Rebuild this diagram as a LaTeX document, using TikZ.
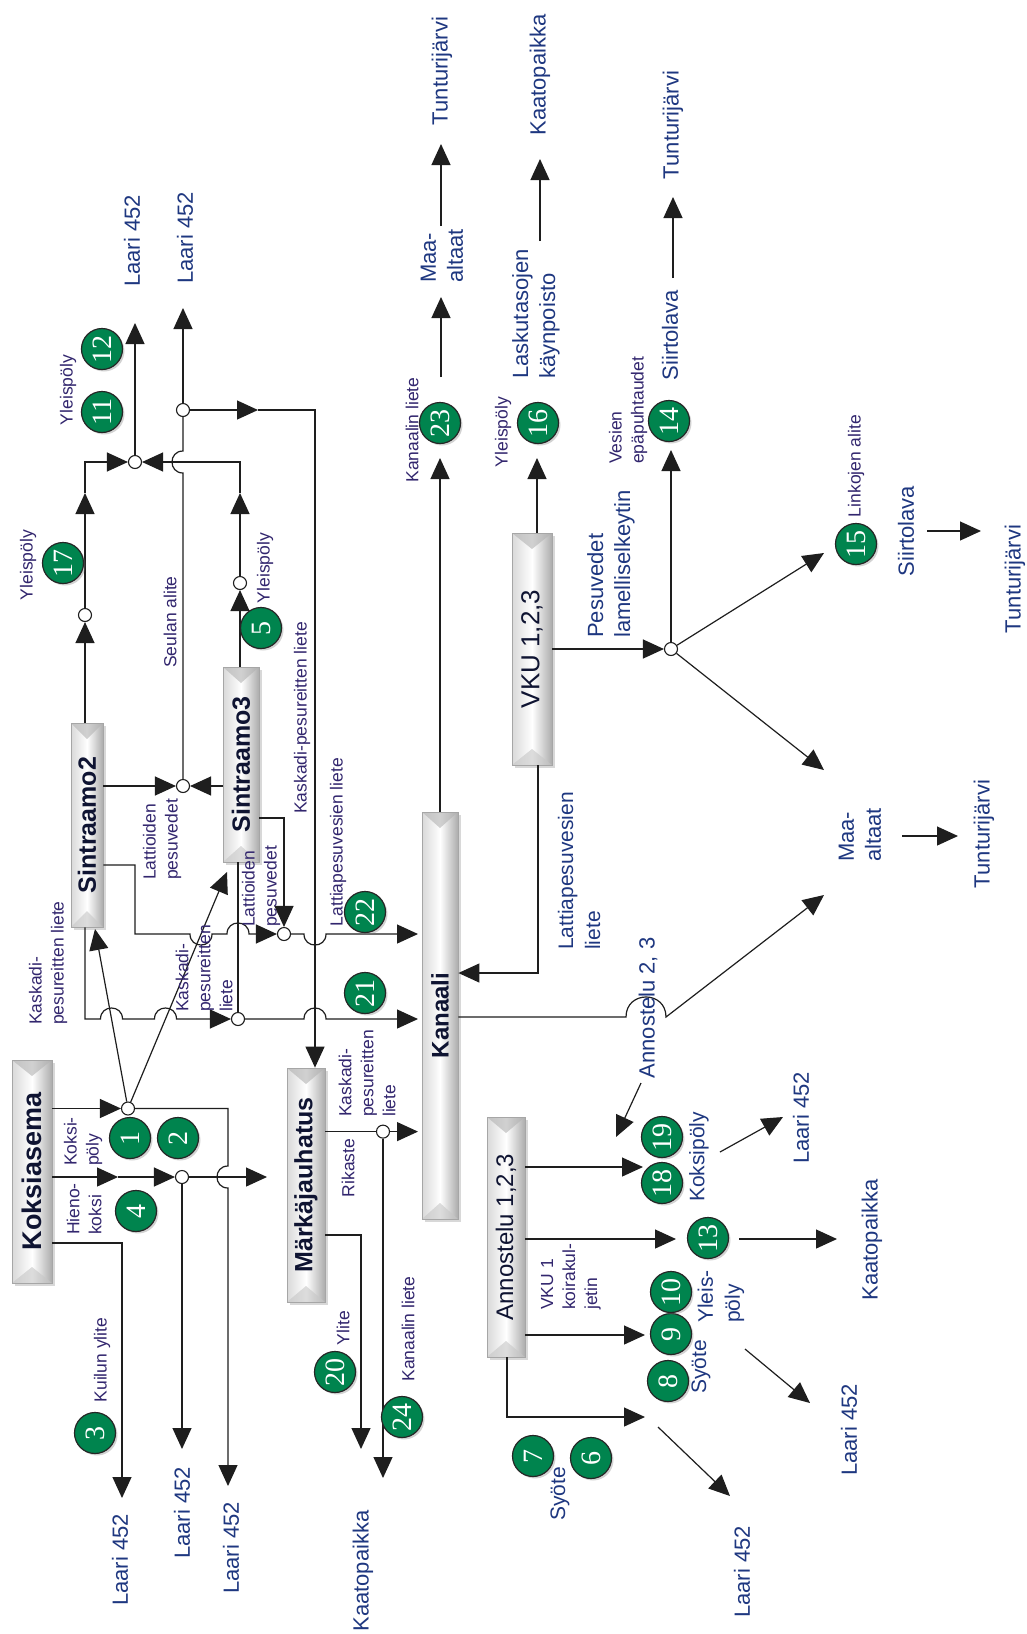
\documentclass[tikz,border=0pt]{standalone}
\usepackage{fontspec}
\usepackage{graphicx}
\setmainfont{Liberation Sans}
\newfontfamily\numfont{Liberation Serif}
\usetikzlibrary{arrows.meta,shadows}
\definecolor{badgegreen}{RGB}{0,132,78}
\definecolor{lblue}{RGB}{30,55,128}
\definecolor{lpurple}{RGB}{50,38,110}
\definecolor{linec}{RGB}{30,30,30}
\definecolor{boxtxt}{RGB}{15,20,50}
\tikzset{
 flow/.style={draw=linec, line width=1.2pt},
 arr/.style={flow, -{Triangle[length=21pt,width=19pt]}},
 jn/.style={circle, draw=linec, fill=white, line width=1.1pt, minimum size=13pt, inner sep=0pt},
 badge/.style={circle, draw=black!85, fill=badgegreen, line width=1.2pt, minimum size=41pt, inner sep=0pt, text=white, font=\numfont\fontsize{28}{28}\selectfont, drop shadow={shadow xshift=2pt, shadow yshift=-2pt, opacity=0.35}},
 unit/.style={rectangle, draw=gray!70, line width=0.8pt, left color=gray!30, right color=gray!65, middle color=white, inner sep=0pt, text=boxtxt,
   drop shadow={shadow xshift=3pt, shadow yshift=-3pt, opacity=0.3},
   path picture={
     \fill[gray!60, opacity=0.6] (path picture bounding box.north west) -- (path picture bounding box.north east) -- ([yshift=-16pt]path picture bounding box.north) -- cycle;
     \fill[gray!45, opacity=0.6] (path picture bounding box.south west) -- (path picture bounding box.south east) -- ([yshift=16pt]path picture bounding box.south) -- cycle;
   }},
 dlbl/.style={text=lblue, font=\fontsize{22}{27}\selectfont, rotate=90, inner sep=0pt, align=left},
 mlbl/.style={text=lblue, font=\fontsize{21}{27}\selectfont, rotate=90, inner sep=0pt, align=left},
 slbl/.style={text=lpurple, font=\fontsize{17.5}{22}\selectfont, rotate=90, inner sep=0pt, align=left},
}
\begin{document}
\begin{tikzpicture}[x=1pt,y=-1pt]
\fill[white] (0,0) rectangle (1027,1634);
\useasboundingbox (0,0) rectangle (1027,1634);

% ---------- process units ----------
\node[unit, minimum width=40pt, minimum height=223pt] (kok) at (32,1171.5) {\rotatebox{90}{\fontsize{27}{27}\selectfont\bfseries Koksiasema}};
\node[unit, minimum width=32pt, minimum height=204pt] (sin2) at (87,825) {\rotatebox{90}{\fontsize{25}{25}\selectfont\bfseries Sintraamo2}};
\node[unit, minimum width=36pt, minimum height=195pt] (sin3) at (241,764.5) {\rotatebox{90}{\fontsize{25}{25}\selectfont\bfseries Sintraamo3}};
\node[unit, minimum width=38pt, minimum height=234pt] (mark) at (306,1185) {\rotatebox{90}{\fontsize{25}{25}\selectfont\bfseries Märkäjauhatus}};
\node[unit, minimum width=36pt, minimum height=407pt] (kan) at (440,1015.5) {\rotatebox{90}{\fontsize{24}{24}\selectfont\bfseries Kanaali}};
\node[unit, minimum width=40pt, minimum height=232pt] (vku) at (532,649) {\rotatebox{90}{\fontsize{26}{26}\selectfont VKU 1,2,3}};
\node[unit, minimum width=38pt, minimum height=240pt] (ann) at (506,1237) {\rotatebox{90}{\fontsize{24}{24}\selectfont Annostelu 1,2,3}};

% ---------- junctions ----------
\node[jn] (j1) at (128,1108.5) {};
\node[jn] (j2) at (182,1177) {};
\node[jn] (j3) at (383,1131.6) {};
\node[jn] (j4) at (183,786) {};
\node[jn] (j5) at (284,934) {};
\node[jn] (j6) at (238,1019) {};
\node[jn] (j7) at (135,462) {};
\node[jn] (j8) at (183,410) {};
\node[jn] (j9) at (85,615) {};
\node[jn] (j10) at (240,583) {};
\node[jn] (j11) at (671,649) {};

% ---------- free ends ----------
\coordinate (k2a) at (118,1177);
\coordinate (k3c) at (122,1243); \coordinate (k3e) at (122,1498);
\coordinate (j1c) at (228,1108.5); \coordinate (j1e) at (228,1486);
\coordinate (j2e) at (182,1449); \coordinate (j2r) at (267,1177);
\coordinate (j3r) at (418,1131.6); \coordinate (j3e) at (383,1478);
\coordinate (m2) at (361,1235); \coordinate (m2e) at (361,1449);
\coordinate (j9a) at (85,493); \coordinate (j9b) at (85,462);
\coordinate (j10a) at (240,493); \coordinate (j10b) at (240,462);
\coordinate (j7e) at (135,323); \coordinate (j8e) at (183,308);
\coordinate (j8a) at (258,410); \coordinate (j8b) at (315,410);
\coordinate (s2b) at (135,865); \coordinate (s3b) at (284,818);
\coordinate (s2c) at (85,1019);
\coordinate (j5e) at (418,934); \coordinate (j6e) at (418,1019);
\coordinate (d1e) at (95,929); \coordinate (d2e) at (227,872);
\coordinate (k23e) at (440,458);
\coordinate (m23s) at (441,377); \coordinate (m23e) at (441,297);
\coordinate (t1s) at (441,226); \coordinate (t1e) at (441,144);
\coordinate (k2) at (626,1017); \coordinate (k2e) at (824,895);
\coordinate (v16) at (537,458); \coordinate (v1) at (538,973);
\coordinate (j11u) at (671,450); \coordinate (j11a) at (824,553); \coordinate (j11b) at (824,770);
\coordinate (lk1) at (540,241); \coordinate (lk2) at (540,159);
\coordinate (s14a) at (673,278); \coordinate (s14b) at (673,197);
\coordinate (s15a) at (927,531); \coordinate (s15b) at (981,531);
\coordinate (ma1) at (902,836); \coordinate (ma2) at (958,836);
\coordinate (a1) at (643,1167); \coordinate (a2) at (676,1239); \coordinate (a3) at (645,1335);
\coordinate (a4c) at (507,1417); \coordinate (a4) at (645,1417);
\coordinate (an23s) at (641,1083); \coordinate (an23e) at (616,1137);
\coordinate (kp1) at (720,1152); \coordinate (kp2) at (783,1117);
\coordinate (c13s) at (739,1239); \coordinate (c13e) at (837,1239);
\coordinate (yp1) at (745,1349); \coordinate (yp2) at (810,1403);
\coordinate (sy1) at (658,1427); \coordinate (sy2) at (730,1496);

% ---------- Koksiasema ----------
\draw[arr] (kok.east |- j1) -- (j1);
\draw[arr] (kok.east |- k2a) -- (k2a);
\draw[arr] (k2a) -- (j2);
\draw[arr] (kok.east |- k3c) -- (k3c) -- (k3e);
\draw[arr] (j1) -- (j1c) -- (228,1166) .. controls (213.3,1166) and (213.3,1188) .. (228,1188) -- (j1e);
\draw[arr] (j2) -- (j2e);
\draw[arr] (j2) -- (j2r);
\draw[arr] (j1) -- (d1e);
\draw[arr] (j1) -- (d2e);

% ---------- Märkäjauhatus ----------
\draw[flow] (mark.east |- j3) -- (j3);
\draw[arr] (j3) -- (j3r);
\draw[arr] (j3) -- (j3e);
\draw[arr] (mark.east |- m2) -- (m2) -- (m2e);

% ---------- Sintraamot ----------
\draw[arr] (sin2.north -| j9) -- (j9);
\draw[arr] (j9) -- (j9a);
\draw[arr] (j9a) -- (j9b) -- (j7);
\draw[arr] (sin3.north -| j10) -- (j10);
\draw[arr] (j10) -- (j10a);
\draw[arr] (j10a) -- (j10b) -- (j7);
\draw[arr] (j7) -- (j7e);
\draw[arr] (j8) -- (j8e);
\draw[arr] (j8) -- (j8a);
\draw[arr] (j8a) -- (j8b) -- (j8b |- mark.north);
\draw[flow] (j8) -- (183,451) .. controls (168.3,451) and (168.3,473) .. (183,473) -- (j4);
\draw[arr] (sin2.east |- j4) -- (j4);
\draw[arr] (sin3.west |- j4) -- (j4);
\draw[arr] (sin2.east |- s2b) -- (s2b) -- (135,934) -- (190,934) .. controls (190,948.7) and (212,948.7) .. (212,934)
   -- (227,934) .. controls (227,919.3) and (249,919.3) .. (249,934) -- (j5);
\draw[arr] (sin3.east |- s3b) -- (s3b) -- (j5);
\draw[arr] (j5) -- (304,934) .. controls (304,948.7) and (326,948.7) .. (326,934) -- (j5e);
\draw[arr] (sin2.south -| s2c) -- (s2c) -- (100.5,1019) .. controls (100.5,1004.3) and (122.5,1004.3) .. (122.5,1019)
   -- (154.5,1019) .. controls (154.5,1004.3) and (176.5,1004.3) .. (176.5,1019) -- (j6);
\draw[flow] (sin3.south -| j6) -- (j6);
\draw[arr] (j6) -- (304,1019) .. controls (304,1004.3) and (326,1004.3) .. (326,1019) -- (j6e);

% ---------- Kanaali ----------
\draw[arr] (kan.north) -- (k23e);
\draw[arr] (m23s) -- (m23e);
\draw[arr] (t1s) -- (t1e);
\draw[arr] (kan.east |- k2) -- (k2) .. controls (626,990.3) and (666,990.3) .. (666,1017) -- (k2e);

% ---------- VKU ----------
\draw[arr] (vku.north -| v16) -- (v16);
\draw[arr] (vku.south -| v1) -- (v1) -- (kan.east |- v1);
\draw[arr] (vku.east |- j11) -- (j11);
\draw[arr] (j11) -- (j11u);
\draw[arr] (j11) -- (j11a);
\draw[arr] (j11) -- (j11b);
\draw[arr] (lk1) -- (lk2);
\draw[arr] (s14a) -- (s14b);
\draw[arr] (s15a) -- (s15b);
\draw[arr] (ma1) -- (ma2);

% ---------- Annostelu ----------
\draw[arr] (ann.east |- a1) -- (a1);
\draw[arr] (ann.east |- a2) -- (a2);
\draw[arr] (ann.east |- a3) -- (a3);
\draw[arr] (ann.south -| a4c) -- (a4c) -- (a4);
\draw[arr] (an23s) -- (an23e);
\draw[arr] (kp1) -- (kp2);
\draw[arr] (c13s) -- (c13e);
\draw[arr] (yp1) -- (yp2);
\draw[arr] (sy1) -- (sy2);

% ---------- badges ----------
\node[badge] (b1) at (130,1138) {\rotatebox{90}{1}};
\node[badge] (b2) at (178,1138) {\rotatebox{90}{2}};
\node[badge] (b3) at (95,1433) {\rotatebox{90}{3}};
\node[badge] (b4) at (136,1211) {\rotatebox{90}{4}};
\node[badge] (b5) at (261,628) {\rotatebox{90}{5}};
\node[badge] (b6) at (591,1458) {\rotatebox{90}{6}};
\node[badge] (b7) at (533,1456) {\rotatebox{90}{7}};
\node[badge] (b8) at (668,1381) {\rotatebox{90}{8}};
\node[badge] (b9) at (671,1334) {\rotatebox{90}{9}};
\node[badge] (b10) at (671,1292) {\rotatebox{90}{10}};
\node[badge] (b11) at (102,412) {\rotatebox{90}{11}};
\node[badge] (b12) at (102,349) {\rotatebox{90}{12}};
\node[badge] (b13) at (708,1238) {\rotatebox{90}{13}};
\node[badge] (b14) at (669,421) {\rotatebox{90}{14}};
\node[badge] (b15) at (856,544) {\rotatebox{90}{15}};
\node[badge] (b16) at (538,423) {\rotatebox{90}{16}};
\node[badge] (b17) at (63,563) {\rotatebox{90}{17}};
\node[badge] (b18) at (662,1183) {\rotatebox{90}{18}};
\node[badge] (b19) at (662,1137) {\rotatebox{90}{19}};
\node[badge] (b20) at (335,1372) {\rotatebox{90}{20}};
\node[badge] (b21) at (365,993) {\rotatebox{90}{21}};
\node[badge] (b22) at (365,912) {\rotatebox{90}{22}};
\node[badge] (b23) at (440,423) {\rotatebox{90}{23}};
\node[badge] (b24) at (402,1417) {\rotatebox{90}{24}};

% ---------- destination labels ----------
\node[dlbl] (l1) at (120,1560) {Laari 452};
\node[dlbl] (l2) at (182,1513) {Laari 452};
\node[dlbl] (l3) at (231,1548) {Laari 452};
\node[dlbl] (l4) at (132,241) {Laari 452};
\node[dlbl] (l5) at (185,238) {Laari 452};
\node[dlbl] (l6) at (801,1118) {Laari 452};
\node[dlbl] (l7) at (849,1430) {Laari 452};
\node[dlbl] (l8) at (742,1572) {Laari 452};
\node[dlbl] (kp01) at (363,1571) {Kaatopaikka};
\node[dlbl] (kp02) at (540,75) {Kaatopaikka};
\node[dlbl] (kp03) at (872,1240) {Kaatopaikka};
\node[dlbl] (tj1) at (442,71) {Tunturijärvi};
\node[dlbl] (tj2) at (673,125) {Tunturijärvi};
\node[dlbl] (tj3) at (1015,579) {Tunturijärvi};
\node[dlbl] (tj4) at (984,834) {Tunturijärvi};
\node[dlbl] (st1) at (670,335) {Siirtolava};
\node[dlbl] (st2) at (906,531) {Siirtolava};
\node[dlbl, anchor=west] (ma01) at (442,283) {Maa-\\altaat};
\node[dlbl, anchor=west] (ma02) at (860,862) {Maa-\\altaat};
\node[dlbl, anchor=west] (lask) at (536,379) {Laskutasojen\\käynpoisto};
\node[dlbl, anchor=west] (pesu) at (611,638) {Pesuvedet\\lamelliselkeytin};
\node[mlbl, anchor=west] (lpl) at (579,950) {Lattiapesuvesien\\liete};
\node[dlbl] (an23) at (648,1008) {Annostelu 2, 3};
\node[mlbl] (kpo) at (699,1157) {Koksipöly};
\node[mlbl, anchor=west] (ylp) at (721,1323) {Yleis-\\pöly};
\node[mlbl] (sy01) at (701,1367) {Syöte};
\node[mlbl] (sy02) at (560,1494) {Syöte};

% ---------- small labels ----------
\node[slbl] (y17) at (28,565) {Yleispöly};
\node[slbl] (y11) at (68,390) {Yleispöly};
\node[slbl] (y5) at (265,568) {Yleispöly};
\node[slbl] (y16) at (503,432) {Yleispöly};
\node[slbl] (seul) at (170,622) {Seulan alite};
\node[slbl] (kpl1) at (302,718) {Kaskadi-pesureitten liete};
\node[slbl] (lpl2) at (338,842) {Lattiapesuvesien liete};
\node[slbl, anchor=west] (lpv1) at (162,880) {Lattioiden\\pesuvedet};
\node[slbl, anchor=west] (lpv2) at (261,927) {Lattioiden\\pesuvedet};
\node[slbl, anchor=west] (kpl2) at (48,1025) {Kaskadi-\\pesureitten liete};
\node[slbl, anchor=west] (kpl3) at (204,1012) {Kaskadi-\\pesureitten\\liete};
\node[slbl, anchor=west] (kpo2) at (83,1166) {Koksi-\\pöly};
\node[slbl, anchor=west] (hk) at (84,1235) {Hieno-\\koksi};
\node[slbl, anchor=west] (kpl4) at (367,1117) {Kaskadi-\\pesureitten\\liete};
\node[slbl] (rik) at (348,1168) {Rikaste};
\node[slbl] (yl) at (343,1328) {Ylite};
\node[slbl] (kl1) at (408,1329) {Kanaalin liete};
\node[slbl] (kl2) at (412,430) {Kanaalin liete};
\node[slbl] (ku) at (102,1360) {Kuilun ylite};
\node[slbl] (lin) at (856,466) {Linkojen alite};
\node[slbl, anchor=west] (ves) at (628,464) {Vesien\\epäpuhtaudet};
\node[slbl, anchor=west] (vk1) at (571,1310) {VKU 1\\koirakul-\\jetin};
\end{tikzpicture}
\end{document}
